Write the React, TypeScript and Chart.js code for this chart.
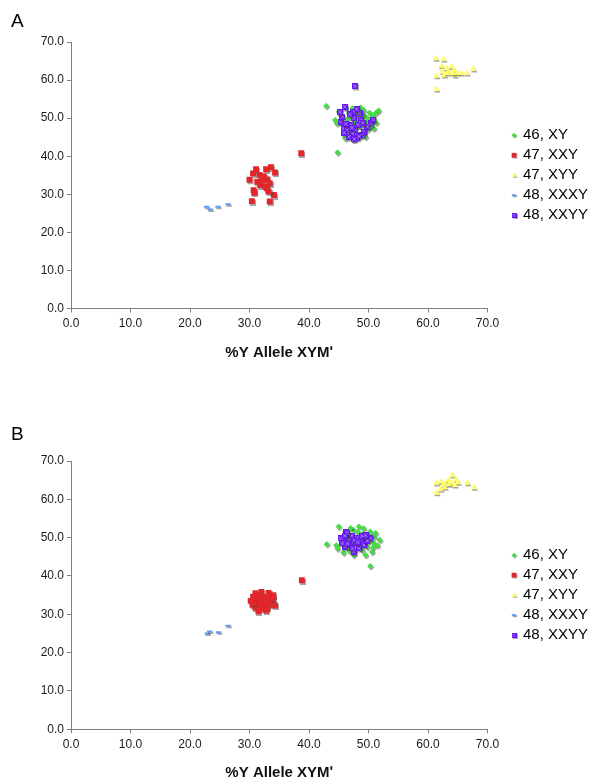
import React, { useEffect, useRef } from "react";
import { Chart, registerables } from "chart.js";
import { drawPoint } from "chart.js/helpers";

Chart.register(...registerables);

const FONT = '"Liberation Sans", Arial, Helvetica, sans-serif';

const SERIES_LABELS = ["46, XY", "47, XXY", "47, XYY", "48, XXXY", "48, XXYY"];
const SERIES_COLORS = ["#46dc46", "#e2262c", "#ffff70", "#5f9cf0", "#6414f0"];
const SERIES_STYLES = ["rectRot", "rect", "triangle", "line", "starBox"];
const SERIES_RADII = [3.1, 4.2, 3.7, 2.7, 3.5];
const SERIES_BORDER = [0, 0, 0, 2, 0];

const X_TICKS = [0, 10, 20, 30, 40, 50, 60, 70];
const Y_TICKS = [0, 10, 20, 30, 40, 50, 60, 70];
const AXIS_TITLE = "%Y Allele XYMʹ";

type Pt = [number, number];

// ---------- Panel A ----------
const A_XY: Pt[] = [
  [42.9, 53.2], [44.8, 41.0], [45.0, 51.7], [46.1, 52.8], [47.3, 52.6], [48.7, 52.8],
  [50.2, 51.4], [51.2, 51.3], [51.7, 52.0], [51.3, 48.8], [50.9, 47.3], [44.4, 49.5],
  [46.1, 44.7], [47.5, 44.3], [49.5, 45.1], [49.2, 52.1], [49.5, 50.4], [49.8, 49.1],
  [49.2, 48.2], [50.1, 47.3], [44.7, 48.6], [50.6, 50.8], [48.2, 50.8], [46.7, 51.3],
  [47.0, 50.5], [48.0, 49.0], [49.0, 50.8], [50.0, 49.8], [48.5, 47.8], [47.5, 48.8],
  [49.5, 46.5], [50.8, 50.2], [46.5, 49.8], [48.8, 51.5], [47.8, 52.0], [50.3, 48.0],
];
const A_XXY: Pt[] = [
  [31.1, 36.6], [32.8, 36.6], [33.6, 37.1], [34.3, 35.7], [30.6, 35.5], [31.7, 35.1],
  [32.4, 34.6], [30.0, 33.8], [31.3, 33.3], [32.1, 33.6], [33.0, 33.9], [33.4, 32.9],
  [31.8, 32.4], [32.7, 32.0], [30.7, 31.1], [32.9, 31.6], [34.1, 29.8], [30.8, 30.4],
  [33.2, 30.7], [30.4, 28.2], [33.4, 28.1], [38.7, 40.8],
];
const A_XYY: Pt[] = [
  [61.3, 65.7], [62.6, 65.5], [61.4, 61.1], [62.2, 63.7], [62.4, 62.2], [62.7, 61.3],
  [63.1, 63.1], [63.5, 62.2], [63.9, 63.5], [64.4, 62.6], [64.5, 61.3], [64.9, 61.9],
  [65.5, 61.8], [66.5, 61.8], [67.6, 62.9], [61.4, 57.6], [63.2, 61.8], [64.1, 61.8],
];
const A_XXXY: Pt[] = [
  [22.8, 26.7], [23.4, 26.0], [24.7, 26.7], [26.4, 27.4],
];
const A_XXYY: Pt[] = [
  [47.7, 58.4], [46.0, 53.0], [47.4, 51.7], [48.5, 51.3], [50.5, 48.6], [45.3, 49.1],
  [45.8, 47.3], [47.0, 48.2], [47.8, 46.9], [48.7, 49.5], [49.2, 46.4], [48.1, 44.7],
  [47.3, 46.0], [46.4, 46.9], [45.6, 50.4], [47.5, 50.0], [49.8, 47.8], [46.7, 45.1],
  [48.9, 45.6], [46.9, 51.0], [47.2, 47.5], [48.2, 48.3], [46.2, 48.5], [49.0, 48.8],
  [47.6, 44.5], [48.4, 45.2], [45.9, 46.2], [50.8, 49.6], [45.2, 51.6], [48.0, 52.4],
];

// ---------- Panel B ----------
const B_XY: Pt[] = [
  [45.0, 52.9], [43.0, 48.3], [44.6, 48.0], [48.4, 52.9], [49.2, 52.4], [50.3, 51.6],
  [51.2, 51.2], [51.9, 49.4], [50.9, 48.5], [49.8, 47.6], [48.9, 46.8], [49.5, 45.5],
  [47.5, 45.5], [45.8, 46.1], [46.1, 51.6], [47.5, 52.0], [50.1, 49.4], [50.6, 46.3],
  [50.3, 42.6], [49.0, 51.0], [51.0, 50.2], [50.5, 50.6], [49.6, 50.2], [48.2, 51.5],
  [51.5, 48.0], [46.8, 46.5], [44.8, 47.2], [50.8, 47.5], [49.3, 48.6], [47.0, 52.5],
];
const B_XXY: Pt[] = [
  [31.0, 35.5], [32.0, 35.8], [33.2, 35.6], [34.0, 35.0], [30.6, 34.6], [31.5, 34.8],
  [32.5, 34.5], [33.5, 34.2], [30.2, 33.5], [31.2, 33.8], [32.0, 33.2], [32.8, 33.6],
  [33.8, 33.3], [30.5, 32.5], [31.5, 32.8], [32.5, 32.3], [33.3, 32.5], [34.3, 32.3],
  [31.0, 31.8], [32.0, 31.5], [33.0, 31.7], [31.5, 30.8], [32.8, 31.0], [30.8, 33.0],
  [34.0, 34.2], [38.8, 38.9],
];
const B_XYY: Pt[] = [
  [64.1, 66.3], [61.4, 64.2], [62.2, 64.6], [62.6, 63.9], [63.0, 64.3], [63.4, 65.0],
  [63.7, 64.2], [64.1, 64.3], [64.7, 65.2], [65.0, 64.4], [64.5, 63.7], [66.6, 64.3],
  [67.7, 63.1], [62.1, 62.6], [62.8, 63.1], [61.4, 61.7], [63.5, 63.9],
];
const B_XXXY: Pt[] = [
  [22.9, 25.0], [23.3, 25.5], [24.8, 25.3], [26.4, 27.0],
];
const B_XXYY: Pt[] = [
  [46.3, 51.6], [45.3, 49.8], [45.8, 49.2], [46.7, 49.6], [47.2, 50.5], [48.1, 50.0],
  [48.7, 49.4], [47.8, 48.5], [47.0, 48.1], [46.1, 47.6], [49.2, 48.1], [50.3, 49.8],
  [47.5, 46.3], [48.4, 47.2], [46.4, 51.3], [45.6, 48.5], [49.8, 49.2], [47.6, 49.3],
  [48.9, 50.4], [46.5, 48.4], [47.3, 47.2], [48.2, 48.8], [49.5, 50.6], [46.0, 50.5],
];

const PANEL_A = [A_XY, A_XXY, A_XYY, A_XXXY, A_XXYY];
const PANEL_B = [B_XY, B_XXY, B_XYY, B_XXXY, B_XXYY];

// Excel-like "star" marker: a filled square crossed by a lighter X
function makeStarBox(size: number, color: string): HTMLCanvasElement {
  const c = document.createElement("canvas");
  c.width = size;
  c.height = size;
  const g = c.getContext("2d")!;
  g.fillStyle = color;
  g.fillRect(0, 0, size, size);
  g.strokeStyle = "#9d7cf7";
  g.lineWidth = 1;
  g.beginPath();
  g.moveTo(1, 1);
  g.lineTo(size - 1, size - 1);
  g.moveTo(size - 1, 1);
  g.lineTo(1, size - 1);
  g.stroke();
  return c;
}

function resolveStyle(i: number, legend: boolean): any {
  if (SERIES_STYLES[i] === "starBox") return makeStarBox(legend ? 5 : 6, SERIES_COLORS[i]);
  return SERIES_STYLES[i];
}

const shadowPlugin = {
  id: "markerShadow",
  beforeDatasetsDraw(chart: any) {
    const ctx = chart.ctx;
    ctx.save();
    ctx.shadowColor = "rgba(60,60,60,0.45)";
    ctx.shadowOffsetX = 1;
    ctx.shadowOffsetY = 1.5;
    ctx.shadowBlur = 0.5;
  },
  afterDatasetsDraw(chart: any) {
    chart.ctx.restore();
  },
};

const legendPlugin = {
  id: "sideLegend",
  afterDraw(chart: any) {
    const { ctx, chartArea } = chart;
    const mid = (chartArea.top + chartArea.bottom) / 2;
    ctx.save();
    SERIES_LABELS.forEach((lab, i) => {
      const y = mid + (i - 2) * 20;
      ctx.save();
      ctx.shadowColor = "rgba(60,60,60,0.45)";
      ctx.shadowOffsetX = 1;
      ctx.shadowOffsetY = 1;
      ctx.fillStyle = SERIES_COLORS[i];
      ctx.strokeStyle = SERIES_COLORS[i];
      ctx.lineWidth = SERIES_BORDER[i] || 1;
      drawPoint(
        ctx,
        {
          pointStyle: resolveStyle(i, true),
          radius: SERIES_RADII[i] * 0.8,
          rotation: 0,
          borderWidth: SERIES_BORDER[i],
        } as any,
        514,
        y
      );
      ctx.restore();
      ctx.font = `15px ${FONT}`;
      ctx.textBaseline = "middle";
      ctx.textAlign = "left";
      ctx.fillStyle = "#000";
      ctx.fillText(lab, 523, y);
    });
    ctx.restore();
  },
};

type PanelProps = {
  series: Pt[][];
  top: number;
  height: number;
  letter: string;
  padTop: number;
  padBottom: number;
  xHeight: number;
  letterTop: number;
};

function Panel({ series, top, height, letter, padTop, padBottom, xHeight, letterTop }: PanelProps) {
  const ref = useRef<HTMLCanvasElement | null>(null);

  useEffect(() => {
    if (!ref.current) return;
    const axisColor = "#7f7f7f";
    const tickFont = { family: FONT, size: 12 };
    const chart = new Chart(ref.current, {
      type: "scatter",
      data: {
        datasets: series.map((pts, i) => ({
          label: SERIES_LABELS[i],
          data: pts.map(([x, y]) => ({ x, y })),
          order: SERIES_LABELS.length - i,
          pointStyle: resolveStyle(i, false),
          pointRadius: SERIES_RADII[i],
          pointHoverRadius: SERIES_RADII[i],
          backgroundColor: SERIES_COLORS[i],
          borderColor: SERIES_COLORS[i],
          borderWidth: SERIES_BORDER[i],
          showLine: false,
        })),
      },
      options: {
        responsive: false,
        animation: false,
        events: [],
        layout: { padding: { left: 0, top: padTop, right: 600 - 487.5, bottom: padBottom } },
        plugins: {
          legend: { display: false },
          tooltip: { enabled: false },
        },
        scales: {
          x: {
            type: "linear",
            position: "bottom",
            min: 0,
            max: 70,
            afterBuildTicks: (s: any) => {
              s.ticks = X_TICKS.map((v) => ({ value: v }));
            },
            afterFit: (s: any) => {
              s.height = xHeight;
            },
            ticks: {
              callback: (v: any) => Number(v).toFixed(1),
              font: tickFont,
              color: "#1a1a1a",
              padding: 4,
              maxRotation: 0,
              autoSkip: false,
            },
            grid: { drawOnChartArea: false, drawTicks: true, tickLength: 4, color: axisColor },
            border: { display: true, color: axisColor, width: 1 },
            title: {
              display: true,
              text: AXIS_TITLE,
              color: "#111",
              font: { family: FONT, size: 15, weight: "bold", lineHeight: 1 },
              padding: { top: 0, bottom: 0 },
            },
          },
          y: {
            type: "linear",
            min: 0,
            max: 70,
            afterBuildTicks: (s: any) => {
              s.ticks = Y_TICKS.map((v) => ({ value: v }));
            },
            afterFit: (s: any) => {
              s.width = 71;
            },
            ticks: {
              callback: (v: any) => Number(v).toFixed(1),
              font: tickFont,
              color: "#1a1a1a",
              padding: 3,
              autoSkip: false,
            },
            grid: { drawOnChartArea: false, drawTicks: true, tickLength: 4, color: axisColor },
            border: { display: true, color: axisColor, width: 1 },
          },
        },
      } as any,
      plugins: [shadowPlugin, legendPlugin],
    });
    return () => chart.destroy();
  }, []);

  return (
    <div style={{ position: "absolute", left: 0, top, width: 600, height }}>
      <canvas ref={ref} width={600} height={height} style={{ display: "block" }} />
      <div
        style={{
          position: "absolute",
          left: 11,
          top: letterTop,
          fontFamily: FONT,
          fontSize: 19,
          lineHeight: "19px",
          color: "#000",
        }}
      >
        {letter}
      </div>
    </div>
  );
}

export default function App() {
  return (
    <div style={{ position: "absolute", left: 0, top: 0, width: 600, height: 780, background: "#fff", overflow: "hidden" }}>
      <Panel series={PANEL_A} top={0} height={420} letter="A" padTop={42} padBottom={59.5} xHeight={52} letterTop={10.8} />
      <Panel series={PANEL_B} top={420} height={360} letter="B" padTop={41} padBottom={0} xHeight={50.7} letterTop={3.5} />
    </div>
  );
}
